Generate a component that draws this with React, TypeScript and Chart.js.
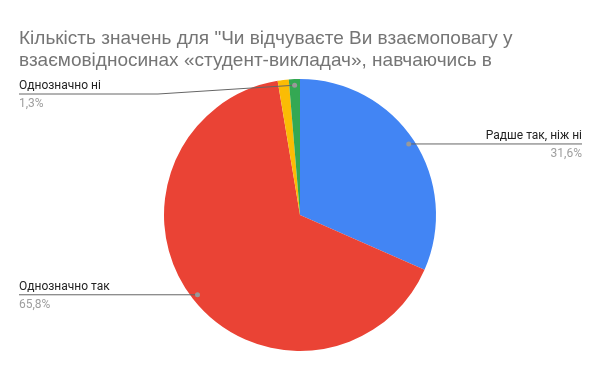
import React, { useEffect, useRef } from "react";
import { Chart, registerables } from "chart.js";

Chart.register(...registerables);

const titleLines = [
  "Кількість значень для \"Чи відчуваєте Ви взаємоповагу у",
  "взаємовідносинах «студент-викладач», навчаючись в",
];
const categories = ["Радше так, ніж ні", "Однозначно так", "Радше ні, ніж так", "Однозначно ні"];
const values = [24, 50, 1, 1];
const percentLabels = ["31,6%", "65,8%", "1,3%", "1,3%"];
const showLabel = [true, true, false, true];
const colors = ["#4285F4", "#EA4335", "#FBBC04", "#34A853"];

const titlePlugin = {
  id: "gtitle",
  afterDraw(chart: any) {
    const ctx = chart.ctx;
    ctx.save();
    ctx.fillStyle = "#757575";
    ctx.font = "19px 'Liberation Sans', Arial, sans-serif";
    ctx.textAlign = "left";
    ctx.textBaseline = "alphabetic";
    titleLines.forEach((t, i) => ctx.fillText(t, 19, 44 + i * 22));
    ctx.restore();
  },
};

const labelPlugin = {
  id: "glabels",
  afterDatasetsDraw(chart: any) {
    const ctx = chart.ctx;
    const meta = chart.getDatasetMeta(0);
    ctx.save();
    meta.data.forEach((arc: any, i: number) => {
      if (!showLabel[i]) return;
      const { x, y, startAngle, endAngle, outerRadius } = arc.getProps(
        ["x", "y", "startAngle", "endAngle", "outerRadius"],
        true
      );
      const mid = (startAngle + endAngle) / 2;
      const r = outerRadius * 0.955;
      const dx = x + Math.cos(mid) * r;
      const dy = y + Math.sin(mid) * r;
      const right = Math.cos(mid) > 0;
      const lineY = Math.max(dy, chart.chartArea.top + 15);
      const endX = right ? 582 : 19;
      const elbowX = right ? endX : Math.min(dx, 158);
      ctx.strokeStyle = "#666666";
      ctx.lineWidth = 1;
      ctx.beginPath();
      ctx.moveTo(dx, dy);
      if (lineY !== dy) {
        ctx.lineTo(elbowX, lineY);
      }
      ctx.lineTo(endX, lineY);
      ctx.stroke();
      ctx.fillStyle = "#999999";
      ctx.beginPath();
      ctx.arc(dx, dy, 2.5, 0, Math.PI * 2);
      ctx.fill();
      ctx.textAlign = right ? "right" : "left";
      ctx.textBaseline = "alphabetic";
      ctx.font = "12px Roboto, 'Noto Sans', sans-serif";
      ctx.fillStyle = "#222222";
      ctx.fillText(categories[i], endX, lineY - 5);
      ctx.fillStyle = "#9e9e9e";
      ctx.fillText(percentLabels[i], endX, lineY + 13);
    });
    ctx.restore();
  },
};

export default function App() {
  const ref = useRef<HTMLCanvasElement>(null);
  useEffect(() => {
    document.body.style.margin = "0";
    const chart = new Chart(ref.current!, {
      type: "pie",
      data: {
        labels: categories,
        datasets: [
          {
            data: values,
            backgroundColor: colors,
            borderWidth: 0,
          },
        ],
      },
      options: {
        animation: false,
        responsive: false,
        layout: { padding: { top: 79, bottom: 20, left: 0, right: 0 } },
        plugins: {
          legend: { display: false },
          tooltip: { enabled: false },
          title: { display: false },
        },
      },
      plugins: [titlePlugin, labelPlugin],
    });
    return () => chart.destroy();
  }, []);
  return (
    <div style={{ width: 600, height: 371, background: "#fff" }}>
      <canvas ref={ref} width={600} height={371} />
    </div>
  );
}
